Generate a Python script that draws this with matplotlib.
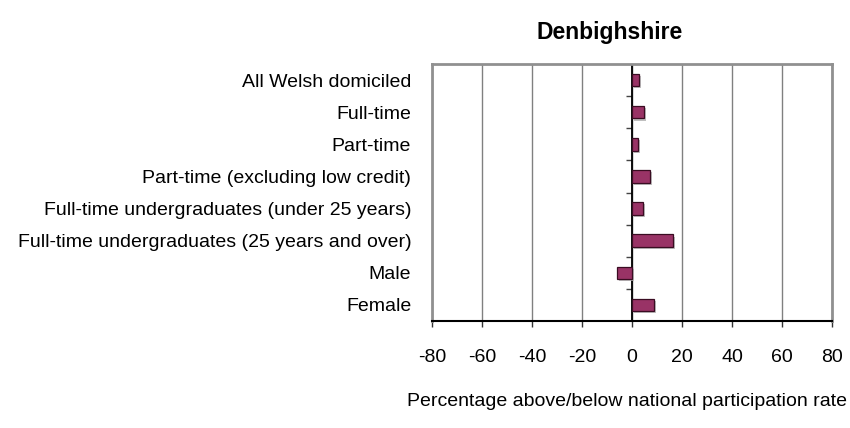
import matplotlib.pyplot as plt
import matplotlib.patheffects as pe
import numpy as np

plt.rcParams['font.family'] = ['Liberation Sans', 'DejaVu Sans']

categories = [
    "All Welsh domiciled",
    "Full-time",
    "Part-time",
    "Part-time (excluding low credit)",
    "Full-time undergraduates (under 25 years)",
    "Full-time undergraduates (25 years and over)",
    "Male",
    "Female",
]
values = [2.7, 4.9, 2.3, 7.2, 4.3, 16.5, -6.1, 8.7]
xticks = [-80, -60, -40, -20, 0, 20, 40, 60, 80]
title = "Denbighshire"
xlabel = "Percentage above/below national participation rate"

fig = plt.figure(figsize=(8.5, 4.28), dpi=100)
ax = fig.add_axes([432 / 850, 1 - 321 / 428, 400 / 850, 257 / 428])

y = np.arange(len(categories))
bars = ax.barh(y, values, height=0.39, color="#993366", edgecolor="#3a0c22",
               linewidth=0.9, zorder=3)
for b in bars:
    b.set_path_effects([pe.SimplePatchShadow(offset=(1.5, -1.5), shadow_rgbFace="#b0b0b0", alpha=0.8),
                        pe.Normal()])

ax.set_xlim(-80, 80)
ax.set_ylim(len(categories) - 0.5, -0.5)
ax.set_xticks(xticks)
ax.set_xticklabels([str(t) for t in xticks], fontsize=14)
ax.set_yticks(y)
ax.set_yticklabels(categories, fontsize=14)
ax.tick_params(axis="y", length=0, pad=15)
ax.tick_params(axis="x", direction="out", length=4, width=1, color="#333333", pad=16)

ax.grid(axis="x", color="#808080", linewidth=1, zorder=0)
ax.set_axisbelow(True)
ax.axvline(0, color="black", linewidth=1.3, zorder=2.5)
for side in ["left", "right", "top"]:
    ax.spines[side].set_color("#909090")
    ax.spines[side].set_linewidth(2)
ax.spines["bottom"].set_color("black")
ax.spines["bottom"].set_linewidth(1.5)

# category axis sitting on zero, ticks pointing left
sec = ax.secondary_yaxis(0.5)
sec.set_yticks(np.arange(len(categories) - 1) + 0.5)
sec.set_yticklabels([])
sec.tick_params(axis="y", direction="in", length=4.5, width=1, color="#444444")
sec.spines["left"].set_color("black")
sec.spines["left"].set_linewidth(1.2)

fig.text(610 / 850, 1 - 33 / 428, title, fontsize=16.5, fontweight="bold",
         ha="center", va="center")
fig.text(627 / 850, 1 - 401 / 428, xlabel, fontsize=14, ha="center", va="center")

fig.savefig("out.png", dpi=100)
